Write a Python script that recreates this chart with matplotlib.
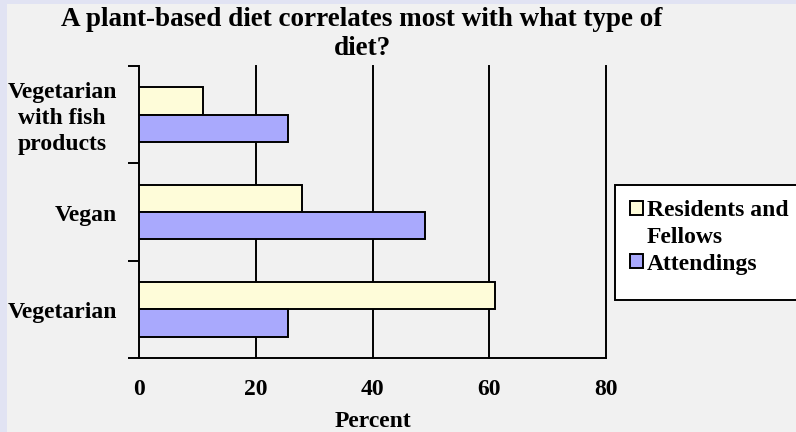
import matplotlib
matplotlib.use("Agg")
import matplotlib.pyplot as plt
import matplotlib.transforms as mtransforms
from matplotlib.patches import Rectangle
import numpy as np

# data
categories = ["Vegetarian\nwith fish\nproducts", "Vegan", "Vegetarian"]
residents = [11, 28, 61]
attendings = [25.5, 49, 25.5]
series_labels = ["Residents and\nFellows", "Attendings"]
x_ticks = [0, 20, 40, 60, 80]

plt.rcParams["font.family"] = ["Liberation Serif", "DejaVu Serif"]
plt.rcParams["font.weight"] = "bold"

BG = "#f1f1f1"
YELLOW = "#fefcd9"
BLUE = "#a9a9fd"
FS = 17

fig = plt.figure(figsize=(7.96, 4.32), dpi=100, facecolor="#e1e3f3")
# inner grey panel, leaving a lavender strip on the top and left
fig.patches.append(Rectangle((7 / 796, 0), 1, 1 - 4 / 432, transform=fig.transFigure,
                             facecolor=BG, edgecolor="none", zorder=-10))

ax = fig.add_axes([139 / 796, 1 - 358 / 432, (606 - 139) / 796, (358 - 66) / 432])
ax.set_facecolor("none")

y = np.arange(len(categories)) + 0.5
h = 0.28
bars_res = ax.barh(y - h / 2, residents, height=h, color=YELLOW, edgecolor="black",
                   linewidth=1.4, zorder=3)
bars_att = ax.barh(y + h / 2, attendings, height=h, color=BLUE, edgecolor="black",
                   linewidth=1.4, zorder=3)

ax.set_xlim(0, 80)
ax.set_ylim(3, 0)

# grid lines in black
for xv in x_ticks[1:]:
    ax.axvline(xv, color="black", linewidth=1.4, zorder=2, clip_on=False)

ax.set_xticks(x_ticks)
ax.set_xticks([0, 80], minor=True)
ax.tick_params(axis="x", which="major", length=0, pad=15, labelsize=FS)
ax.tick_params(axis="x", which="minor", length=5, width=1.4, direction="out")

ax.set_yticks(y)
ax.set_yticklabels(categories, ha="right", va="center", multialignment="center",
                   linespacing=1.32)
ax.set_yticks([0, 1, 2, 3], minor=True)
ax.tick_params(axis="y", which="major", length=0, pad=16, labelsize=FS)
ax.tick_params(axis="y", which="minor", length=8, width=1.4, direction="out")
# nudge the category labels a few pixels down
shift = mtransforms.ScaledTranslation(0, -3.5 / 100, fig.dpi_scale_trans)
for lab in ax.get_yticklabels():
    lab.set_transform(lab.get_transform() + shift)

for side in ["top", "right"]:
    ax.spines[side].set_visible(False)
for side in ["left", "bottom"]:
    ax.spines[side].set_linewidth(1.4)

ax.set_xlabel("Percent", fontsize=FS, fontweight="bold", labelpad=8)

fig.text(0.455, 1 - 7 / 432, "A plant-based diet correlates most with what type of\ndiet?",
         ha="center", va="top", fontsize=19.5, fontweight="bold", linespacing=1.2)

# legend box drawn on its own so it can run past the right edge
fig.patches.append(Rectangle((615 / 796, 1 - 300 / 432), 200 / 796, 115 / 432,
                             transform=fig.transFigure, facecolor="white",
                             edgecolor="black", linewidth=1.4, zorder=4))

# square sits next to the first line of the wrapped label
first, second = series_labels[0].split("\n")
blank = Rectangle((0, 0), 1, 1, facecolor="none", edgecolor="none")
leg = fig.legend([bars_res, blank, bars_att],
                 [first, second, series_labels[1]], loc="upper left",
                 bbox_to_anchor=(615 / 796, 1 - 185 / 432), borderaxespad=0,
                 fontsize=FS, frameon=False,
                 handlelength=0.55, handleheight=0.55, handletextpad=0.15,
                 labelspacing=0.24, borderpad=0.65)
leg.set_zorder(5)

fig.savefig("out.png", dpi=100, facecolor=fig.get_facecolor())
